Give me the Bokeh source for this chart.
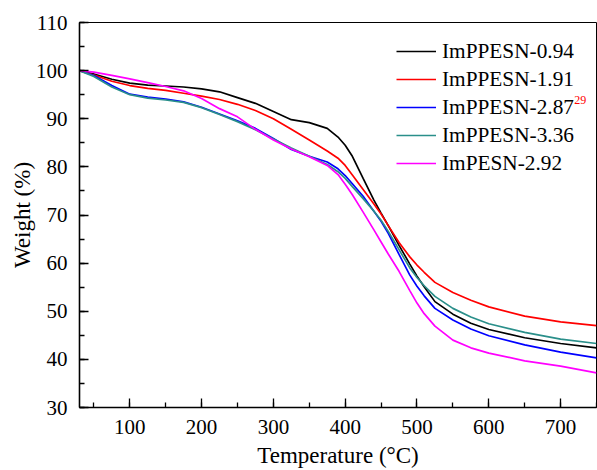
from bokeh.plotting import figure
from bokeh.models import SingleIntervalTicker, Label, Legend, LegendItem
from bokeh.embed import file_html
from bokeh.resources import INLINE

temp = [30, 50, 75, 100, 125, 150, 175, 200, 225, 250, 275, 300, 325, 350, 375, 390, 400,
        410, 425, 440, 450, 460, 475, 490, 500, 510, 525, 550, 575, 600, 650, 700, 750]

w_094 = [100, 99.3, 98.2, 97.4, 97.0, 96.8, 96.6, 96.2, 95.6, 94.4, 93.2, 91.5, 89.8, 89.2, 88.0, 86.2, 84.5,
         82.2, 77.6, 73.1, 70.4, 67.8, 63.7, 59.8, 57.3, 55.1, 52.0, 49.4, 47.5, 46.2, 44.5, 43.3, 42.4]
w_191 = [100, 99.1, 97.8, 96.9, 96.3, 95.9, 95.3, 94.7, 94.0, 93.0, 91.7, 90.0, 87.8, 85.6, 83.3, 81.8, 80.3,
         78.3, 75.3, 72.3, 70.2, 67.8, 64.3, 61.3, 59.6, 58.1, 56.0, 53.9, 52.3, 50.9, 49.0, 47.8, 47.0]
w_287 = [100, 99.0, 96.9, 95.1, 94.5, 94.1, 93.5, 92.4, 91.0, 89.6, 88.0, 85.9, 83.6, 82.2, 81.0, 79.6, 78.2,
         76.5, 73.9, 70.8, 68.7, 66.2, 61.8, 57.5, 55.2, 53.2, 50.6, 48.2, 46.3, 44.9, 43.0, 41.5, 40.3]
w_336 = [100, 98.8, 96.6, 95.0, 94.3, 93.9, 93.4, 92.3, 90.9, 89.4, 87.7, 85.8, 83.9, 82.2, 80.5, 79.0, 77.6,
         75.9, 73.4, 70.8, 68.9, 66.6, 62.8, 59.0, 57.0, 55.3, 53.1, 50.6, 48.8, 47.4, 45.6, 44.2, 43.3]
w_292 = [100, 99.7, 99.0, 98.3, 97.5, 96.7, 95.8, 94.2, 92.1, 90.4, 87.8, 85.6, 83.7, 82.1, 80.3, 78.4, 76.4,
         74.2, 70.6, 66.9, 64.4, 61.9, 58.3, 54.3, 51.7, 49.5, 46.9, 44.0, 42.4, 41.3, 39.7, 38.6, 37.2]

labels = ["ImPPESN-0.94", "ImPPESN-1.91", "ImPPESN-2.87", "ImPPESN-3.36", "ImPESN-2.92"]
colors = ["#000000", "#ff0000", "#0000ff", "#2a8f8a", "#ff00ff"]
series = [w_094, w_191, w_287, w_336, w_292]

FONT = "Liberation Serif"

p = figure(width=597, height=470, x_range=(30, 750), y_range=(30, 110),
           output_backend="svg", toolbar_location=None,
           min_border_left=79, min_border_right=1, min_border_top=22, min_border_bottom=61)

p.xgrid.visible = False
p.ygrid.visible = False
p.outline_line_color = "black"
p.outline_line_width = 1
p.background_fill_color = "white"

items = []
for lab, col, ys in zip(labels, colors, series):
    r = p.line(temp, ys, line_color=col, line_width=1.7)
    items.append(LegendItem(label=lab, renderers=[r]))

p.xaxis.ticker = SingleIntervalTicker(interval=100, num_minor_ticks=2)
p.yaxis.ticker = SingleIntervalTicker(interval=10, num_minor_ticks=2)

for ax in (p.xaxis, p.yaxis):
    ax.axis_line_width = 1.6
    ax.axis_line_color = "black"
    ax.major_tick_in = 9
    ax.major_tick_out = 0
    ax.minor_tick_in = 5
    ax.minor_tick_out = 0
    ax.major_tick_line_width = 1.3
    ax.minor_tick_line_width = 1.3
    ax.major_tick_line_color = "black"
    ax.minor_tick_line_color = "black"
    ax.major_label_text_font = FONT
    ax.major_label_text_font_size = "21px"
    ax.major_label_text_color = "black"
    ax.axis_label_text_font = FONT
    ax.axis_label_text_font_size = "23px"
    ax.axis_label_text_font_style = "normal"
    ax.axis_label_text_color = "black"

p.xaxis.axis_label = "Temperature (°C)"
p.yaxis.axis_label = "Weight (%)"
p.xaxis.major_label_standoff = 12
p.yaxis.major_label_standoff = 12
p.xaxis.axis_label_standoff = 6
p.yaxis.axis_label_standoff = -2

legend = Legend(items=items, location=(317, 231))
legend.label_text_font = FONT
legend.label_text_font_size = "21.3px"
legend.label_text_color = "black"
legend.glyph_width = 40
legend.glyph_height = 26
legend.label_height = 26
legend.spacing = 2
legend.padding = 0
legend.margin = 0
legend.label_standoff = 6
legend.border_line_alpha = 0
legend.background_fill_alpha = 0
p.add_layout(legend)

sup = Label(x=719, y=93.9, text="29", text_color="red", text_font=FONT,
            text_font_size="12px", text_baseline="alphabetic")
p.add_layout(sup)

open("out.html", "w").write(file_html(p, INLINE))
